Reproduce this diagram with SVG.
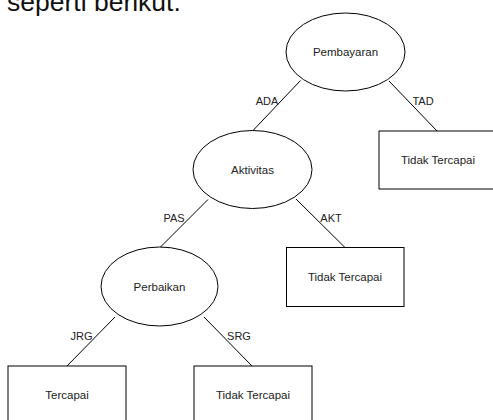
<svg xmlns="http://www.w3.org/2000/svg" width="493" height="420" viewBox="0 0 493 420">
<style>
.shape{fill:#fff;stroke:#000;stroke-width:1}
.lbl{font-family:"Liberation Sans",Arial,sans-serif;font-size:11.5px;fill:#222;text-anchor:middle}
.elbl{font-family:"Liberation Sans",Arial,sans-serif;font-size:11px;fill:#222;text-anchor:middle}
.edge{stroke:#000;stroke-width:1;fill:none}
.intro{font-family:"Liberation Sans",Arial,sans-serif;font-size:26.5px;fill:#111}
</style>
<rect width="493" height="420" fill="#fff"/>
<text class="intro" x="7" y="11">seperti berikut.</text>
<g id="connectors">
<line class="edge" x1="300.5" y1="80.5" x2="253" y2="130.5"/>
<line class="edge" x1="389" y1="81" x2="437" y2="131"/>
<line class="edge" x1="208" y1="199.5" x2="160" y2="247.5"/>
<line class="edge" x1="296" y1="199" x2="345" y2="247.5"/>
<line class="edge" x1="115" y1="317" x2="67" y2="366"/>
<line class="edge" x1="204" y1="317" x2="252" y2="366"/>
<text class="elbl" x="267" y="105">ADA</text>
<text class="elbl" x="423" y="105">TAD</text>
<text class="elbl" x="174" y="222">PAS</text>
<text class="elbl" x="331" y="222">AKT</text>
<text class="elbl" x="81.5" y="340">JRG</text>
<text class="elbl" x="239" y="340">SRG</text>
</g>
<g id="pembayaran">
<ellipse class="shape" cx="345.5" cy="52" rx="59.5" ry="39"/>
<text class="lbl" x="345.5" y="56">Pembayaran</text>
</g>
<g id="tidak1">
<rect class="shape" x="379" y="131" width="118" height="58"/>
<text class="lbl" x="438" y="164">Tidak Tercapai</text>
</g>
<g id="aktivitas">
<ellipse class="shape" cx="252.5" cy="169.5" rx="59.5" ry="39"/>
<text class="lbl" x="252.5" y="173.5">Aktivitas</text>
</g>
<g id="tidak2">
<rect class="shape" x="286.5" y="247.5" width="117.5" height="59"/>
<text class="lbl" x="345" y="281">Tidak Tercapai</text>
</g>
<g id="perbaikan">
<ellipse class="shape" cx="159.5" cy="286.5" rx="58.5" ry="39.5"/>
<text class="lbl" x="159.5" y="290.5">Perbaikan</text>
</g>
<g id="tercapai">
<rect class="shape" x="8" y="366" width="118" height="58"/>
<text class="lbl" x="67" y="399">Tercapai</text>
</g>
<g id="tidak3">
<rect class="shape" x="194" y="366" width="118" height="58"/>
<text class="lbl" x="253" y="399">Tidak Tercapai</text>
</g>
</svg>
